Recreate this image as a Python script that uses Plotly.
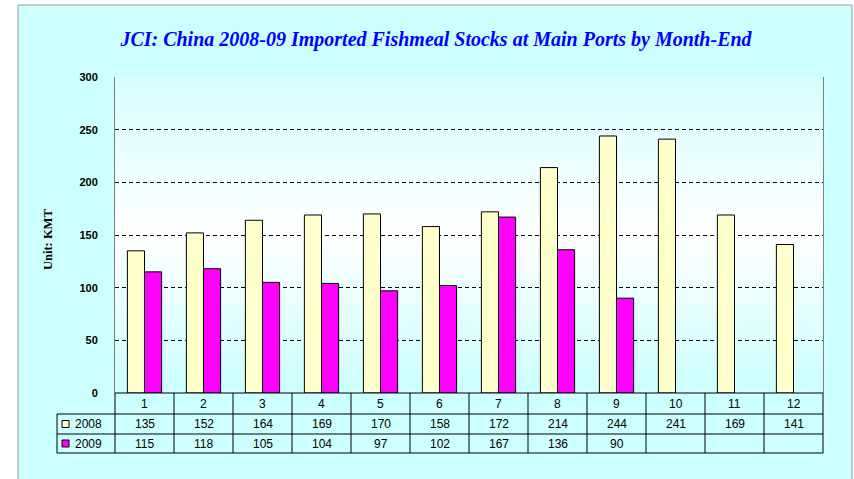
import plotly.graph_objects as go

# ---- data ----
months = list(range(1, 13))
month_labels = ["1", "2", "3", "4", "5", "6", "7", "8", "9", "10", "11", "12"]
series_names = ["2008", "2009"]
stocks_2008 = [135, 152, 164, 169, 170, 158, 172, 214, 244, 241, 169, 141]
stocks_2009 = [115, 118, 105, 104, 97, 102, 167, 136, 90, None, None, None]
y_ticks = [0, 50, 100, 150, 200, 250, 300]
title_text = "JCI: China 2008-09 Imported Fishmeal Stocks at Main Ports by Month-End"
y_title = "Unit: KMT"

# ---- geometry (pixels) ----
FW, FH = 854, 479
L, R, T, B = 115, 31, 77, 86
W = FW - L - R
H = FH - T - B
BOT = FH - B  # pixel y of plot bottom


def px(x):
    return (x - L) / W


def py(y):
    return (BOT - y) / H


colors = ["#FFFFCC", "#FF00FF"]
cyan_bg = "#CCFFFF"

fig = go.Figure()
for name, vals, col in zip(series_names, [stocks_2008, stocks_2009], colors):
    fig.add_trace(go.Bar(x=months, y=vals, name=name, marker=dict(color=col, line=dict(color="black", width=1)),
                         hoverinfo="skip"))

shapes = []
# outer frame
shapes.append(dict(type="rect", xref="paper", yref="paper", x0=px(18), x1=px(852), y0=py(5), y1=py(482),
                   fillcolor=cyan_bg, line=dict(color="#999999", width=1), layer="below"))
# plot-area gradient
N = 60
for i in range(N):
    t0, t1 = i / N, (i + 1) / N
    tm = (t0 + t1) / 2
    if tm < 0.5:
        f = tm / 0.5
        c0 = 0xCC
    else:
        f = (1 - tm) / 0.5
        c0 = 0xD8
    r = int(c0 + (255 - c0) * f)
    shapes.append(dict(type="rect", xref="paper", yref="paper", x0=0, x1=1, y0=t0, y1=t1 + 0.002,
                       fillcolor=f"rgb({r},255,255)", line=dict(width=0), layer="below"))

# data table lines
row_y = [BOT, 414, 434, 453]
tl = dict(color="black", width=1)
shapes.append(dict(type="line", xref="paper", yref="paper", x0=0, x1=1, y0=py(row_y[0]), y1=py(row_y[0]), line=tl))
for yy in row_y[1:]:
    shapes.append(dict(type="line", xref="paper", yref="paper", x0=px(57), x1=1, y0=py(yy), y1=py(yy), line=tl))
shapes.append(dict(type="line", xref="paper", yref="paper", x0=px(57), x1=px(57), y0=py(row_y[1]), y1=py(row_y[3]), line=tl))
for k in range(len(months) + 1):
    xx = k / len(months)
    shapes.append(dict(type="line", xref="paper", yref="paper", x0=xx, x1=xx, y0=py(row_y[0]), y1=py(row_y[3]), line=tl))
# legend keys in table
for i, col in enumerate(colors):
    yc = (row_y[i + 1] + row_y[i + 2]) / 2
    shapes.append(dict(type="rect", xref="paper", yref="paper", x0=px(62), x1=px(69), y0=py(yc + 3.5), y1=py(yc - 3.5),
                       fillcolor=col, line=dict(color="black", width=1)))

annotations = []
tfont = dict(family="Liberation Sans, Arial", size=12, color="black")
n = len(months)
for k, lab in enumerate(month_labels):
    annotations.append(dict(xref="paper", yref="paper", x=(k + 0.5) / n, y=py((row_y[0] + row_y[1]) / 2),
                            text=lab, showarrow=False, font=tfont, xanchor="center", yanchor="middle"))
for i, vals in enumerate([stocks_2008, stocks_2009]):
    yc = (row_y[i + 1] + row_y[i + 2]) / 2
    annotations.append(dict(xref="paper", yref="paper", x=px(73), y=py(yc), text=series_names[i], showarrow=False,
                            font=tfont, xanchor="left", yanchor="middle"))
    for k, v in enumerate(vals):
        if v is None:
            continue
        annotations.append(dict(xref="paper", yref="paper", x=(k + 0.5) / n, y=py(yc), text=str(v),
                                showarrow=False, font=tfont, xanchor="center", yanchor="middle"))
annotations.append(dict(xref="paper", yref="paper", x=px(48), y=py(240), text=y_title, textangle=-90,
                        showarrow=False, xanchor="center", yanchor="middle",
                        font=dict(family="Liberation Serif, Times New Roman", size=12.5, color="black", weight="bold")))

fig.update_layout(
    width=FW, height=FH,
    margin=dict(l=L, r=R, t=T, b=B),
    paper_bgcolor="white",
    plot_bgcolor="rgba(0,0,0,0)",
    showlegend=False,
    barmode="group",
    bargap=0.42,
    bargroupgap=0,
    title=dict(text=title_text, x=436 / FW, xanchor="center", y=1 - 39 / FH, yanchor="middle", yref="container",
               font=dict(family="Liberation Serif, Times New Roman", size=20, color="#0000FF",
                         weight="bold", style="italic")),
    xaxis=dict(range=[0.5, 12.5], showticklabels=False, showgrid=False, zeroline=False, showline=False,
               fixedrange=True),
    yaxis=dict(range=[0, 300], tickvals=y_ticks, showgrid=True, gridcolor="black", gridwidth=1,
               griddash="4px,3px", zeroline=False, showline=True, linecolor="#808080", linewidth=1,
               mirror=True, ticks="", ticklabelstandoff=14,
               tickfont=dict(family="Liberation Sans, Arial", size=11, color="black", weight="bold")),
    shapes=shapes,
    annotations=annotations,
)

fig.write_html("out.html", config={"displayModeBar": False},
               post_script="document.body.style.margin='0';")
